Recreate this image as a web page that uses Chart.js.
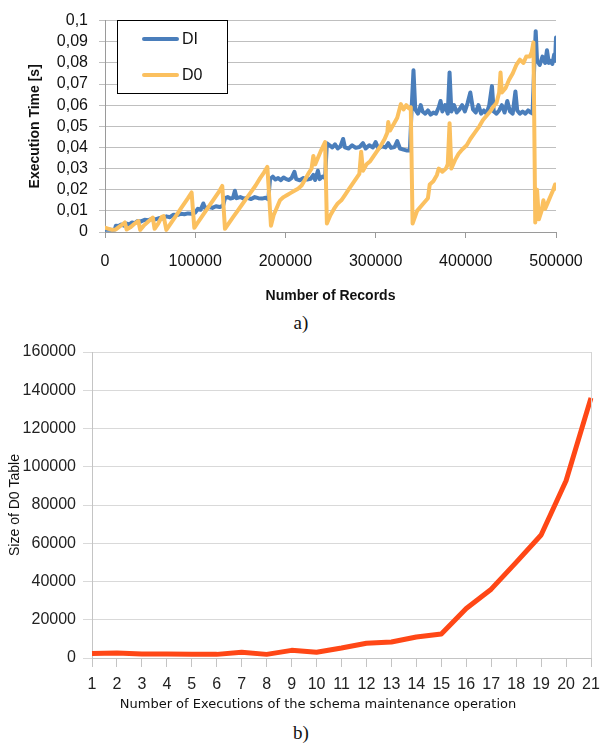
<!DOCTYPE html>
<html>
<head>
<meta charset="utf-8">
<script src="https://cdn.jsdelivr.net/npm/chart.js@4.4.1/dist/chart.umd.min.js"></script>
<style>
  html, body { margin: 0; padding: 0; background: #fff; width: 600px; height: 746px; overflow: hidden; }
  #wrapA { position: absolute; left: 0; top: 0; width: 600px; height: 310px; }
  #wrapB { position: absolute; left: 0; top: 330px; width: 600px; height: 390px; }
  .cap { position: absolute; font-family: "Liberation Serif", "Times New Roman", serif; font-size: 19px; color: #111; transform: translate(-50%, -50%); }
  .axisTitleB { position: absolute; font-family: "DejaVu Sans", sans-serif; font-size: 13px; color: #111; white-space: nowrap; transform: translate(-50%, -50%); }
</style>
</head>
<body>
<div id="wrapA"><canvas id="timeChart" width="600" height="310"></canvas></div>
<div class="cap" style="left:301px; top:323px;">a)</div>
<div id="wrapB"><canvas id="sizeChart" width="600" height="390"></canvas></div>
<div id="xTitleB" class="axisTitleB" style="left:318px; top:703px;"></div>
<div class="cap" style="left:301px; top:733px;">b)</div>

<script>
// ---- a) execution time per insert, by number of records ----
const seriesNamesA = ['DI', 'D0'];

const diRecords = [
  0, 4000, 8000, 11000, 12000, 15000, 18000, 21000, 24000, 27000, 30000, 33000, 36000, 40000, 44000, 48000,
  52000, 56000, 60000, 64000, 68000, 72000, 76000, 80000, 84000, 88000, 92000, 96000, 100000, 103000, 106000,
  109000, 111000, 115000, 119000, 123000, 127000, 131000, 133000, 136000, 139000, 142000, 144000, 146000,
  150000, 154000, 158000, 162000, 166000, 170000, 174000, 178000, 181000, 183000, 186000, 189000, 192000,
  195000, 198000, 201000, 204000, 207000, 210000, 212000, 216000, 220000, 224000, 228000, 231000, 233000,
  236000, 238000, 241000, 244000, 246000, 249000, 252000, 255000, 258000, 261000, 264000, 266000, 270000,
  274000, 278000, 282000, 286000, 289000, 293000, 297000, 300000, 303000, 307000, 311000, 314000, 317000,
  321000, 324000, 327000, 331000, 335000, 338000, 340000, 342000, 344000, 347000, 350000, 352000, 355000,
  358000, 361000, 364000, 367000, 370000, 372000, 374000, 377000, 380000, 382000, 384000, 387000, 390000,
  393000, 396000, 399000, 402000, 405000, 408000, 411000, 414000, 417000, 420000, 423000, 426000, 429000,
  431000, 434000, 437000, 440000, 443000, 446000, 449000, 452000, 455000, 457000, 460000, 463000, 466000,
  469000, 472000, 474000, 476000, 477500, 479000, 482000, 485000, 488000, 490000, 492000, 494000, 496000,
  498000, 499000, 500000
];
const diTimes = [
  0.0010, 0.0012, 0.0010, 0.0012, 0.0030, 0.0028, 0.0035, 0.0030, 0.0040, 0.0036, 0.0045, 0.0042, 0.0052, 0.0050, 0.0058, 0.0056,
  0.0062, 0.0060, 0.0066, 0.0064, 0.0074, 0.0070, 0.0082, 0.0080, 0.0086, 0.0084, 0.0088, 0.0086, 0.0092, 0.0110, 0.0105,
  0.0135, 0.0112, 0.0118, 0.0114, 0.0122, 0.0118, 0.0125, 0.0160, 0.0165, 0.0158, 0.0162, 0.0195, 0.0160,
  0.0165, 0.0158, 0.0162, 0.0156, 0.0165, 0.0160, 0.0158, 0.0162, 0.0155, 0.0250, 0.0262, 0.0248, 0.0255,
  0.0245, 0.0258, 0.0250, 0.0246, 0.0256, 0.0285, 0.0250, 0.0245, 0.0255, 0.0248, 0.0252, 0.0270, 0.0246,
  0.0290, 0.0250, 0.0262, 0.0255, 0.0420, 0.0410, 0.0400, 0.0415, 0.0395, 0.0405, 0.0440, 0.0400, 0.0395,
  0.0410, 0.0398, 0.0402, 0.0420, 0.0395, 0.0410, 0.0400, 0.0425, 0.0395, 0.0405, 0.0400, 0.0420, 0.0398,
  0.0402, 0.0430, 0.0395, 0.0390, 0.0385, 0.0385, 0.0590, 0.0765, 0.0580, 0.0560, 0.0600, 0.0570, 0.0560,
  0.0575, 0.0555, 0.0565, 0.0560, 0.0590, 0.0620, 0.0570, 0.0600, 0.0560, 0.0755, 0.0570, 0.0600, 0.0565,
  0.0580, 0.0600, 0.0570, 0.0610, 0.0660, 0.0580, 0.0565, 0.0600, 0.0560, 0.0575, 0.0560, 0.0600, 0.0690,
  0.0570, 0.0560, 0.0575, 0.0600, 0.0565, 0.0620, 0.0570, 0.0560, 0.0665, 0.0575, 0.0560, 0.0570, 0.0560,
  0.0575, 0.0565, 0.0560, 0.0800, 0.0950, 0.0810, 0.0790, 0.0830, 0.0800, 0.0860, 0.0800, 0.0810, 0.0795,
  0.0840, 0.0810, 0.0920
];

const d0Records = [
  0, 4000, 8000, 12000, 16000, 20000, 22000, 24000, 28000, 33000, 37000, 39000, 43000, 48000, 53000, 55000,
  59000, 63000, 65000, 68000, 72000, 76000, 80000, 84000, 88000, 92000, 96000, 99000, 103000, 107000, 111000,
  115000, 119000, 123000, 127000, 130000, 133000, 137000, 142000, 147000, 152000, 157000, 162000, 167000,
  172000, 176000, 180000, 184000, 187000, 190000, 194000, 198000, 202000, 206000, 210000, 214000, 218000,
  222000, 226000, 229000, 231000, 233000, 236000, 240000, 244000, 246000, 250000, 254000, 258000, 262000,
  266000, 270000, 274000, 278000, 282000, 284000, 286000, 290000, 294000, 298000, 302000, 306000, 310000,
  313000, 314000, 316000, 320000, 324000, 328000, 331000, 334000, 337000, 339000, 341000, 346000, 352000,
  358000, 360000, 364000, 368000, 370000, 374000, 378000, 380000, 382000, 384000, 388000, 392000, 396000,
  401000, 405000, 410000, 415000, 419000, 423000, 427000, 430000, 434000, 437000, 438500, 440000, 444000,
  448000, 452000, 456000, 460000, 464000, 467000, 471000, 473000, 475000, 477000, 479000, 481000, 484000,
  486000, 488000, 491000, 494000, 497000, 499000, 500000
];
const d0Times = [
  0.0020, 0.0015, 0.0010, 0.0012, 0.0025, 0.0038, 0.0045, 0.0012, 0.0022, 0.0040, 0.0052, 0.0010, 0.0030, 0.0050, 0.0068, 0.0015,
  0.0040, 0.0072, 0.0075, 0.0010, 0.0035, 0.0060, 0.0085, 0.0110, 0.0135, 0.0160, 0.0187, 0.0020, 0.0045, 0.0070, 0.0095,
  0.0120, 0.0145, 0.0170, 0.0195, 0.0218, 0.0015, 0.0040, 0.0070, 0.0100, 0.0130, 0.0160, 0.0190, 0.0220,
  0.0255, 0.0280, 0.0308, 0.0030, 0.0080, 0.0110, 0.0150, 0.0165, 0.0175, 0.0185, 0.0195, 0.0205, 0.0220,
  0.0250, 0.0280, 0.0300, 0.0360, 0.0320, 0.0350, 0.0390, 0.0425, 0.0040, 0.0080, 0.0110, 0.0135, 0.0150,
  0.0175, 0.0200, 0.0225, 0.0250, 0.0275, 0.0380, 0.0290, 0.0320, 0.0335, 0.0360, 0.0385, 0.0410, 0.0440,
  0.0470, 0.0520, 0.0480, 0.0510, 0.0540, 0.0605, 0.0580, 0.0600, 0.0585, 0.0590, 0.0040, 0.0100, 0.0130,
  0.0160, 0.0225, 0.0240, 0.0270, 0.0300, 0.0285, 0.0300, 0.0320, 0.0515, 0.0300, 0.0340, 0.0370, 0.0390,
  0.0410, 0.0440, 0.0470, 0.0500, 0.0530, 0.0550, 0.0570, 0.0590, 0.0610, 0.0660, 0.0755, 0.0660, 0.0680,
  0.0720, 0.0750, 0.0790, 0.0815, 0.0800, 0.0830, 0.0830, 0.0850, 0.0897, 0.0045, 0.0200, 0.0060, 0.0100,
  0.0150, 0.0110, 0.0140, 0.0170, 0.0200, 0.0225, 0.0205
];

const xTickLabelsA = ['0', '100000', '200000', '300000', '400000', '500000'];
const yTickLabelsA = ['0', '0,01', '0,02', '0,03', '0,04', '0,05', '0,06', '0,07', '0,08', '0,09', '0,1'];
const xTitleA = 'Number of Records';
const yTitleA = 'Execution Time [s]';

// ---- b) size of the D0 table after each run ----
const executions = ['1', '2', '3', '4', '5', '6', '7', '8', '9', '10', '11', '12', '13', '14', '15', '16', '17', '18', '19', '20', '21'];
const d0Sizes = [2300, 2600, 2100, 2100, 1900, 1900, 3000, 1900, 4000, 3000, 5200, 7700, 8400, 11000, 12600, 25900, 36000, 50000, 64300, 92700, 136000];
const yTickLabelsB = ['0', '20000', '40000', '60000', '80000', '100000', '120000', '140000', '160000'];
const xTitleB = 'Number of Executions of the schema maintenance operation';
const yTitleB = 'Size of D0 Table';

document.getElementById('xTitleB').textContent = xTitleB;

const SANS = '"Liberation Sans", Arial, sans-serif';

function toPoints(xs, ys) {
  return xs.map((x, i) => ({ x: x, y: ys[i] }));
}

// keep the plot edges where the layout padding puts them
function noEdgePadding(s) {
  s.paddingLeft = 0;
  s.paddingRight = 0;
}

// boxed legend drawn inside the plot area
const boxLegend = {
  id: 'boxLegend',
  afterDraw(chart, args, o) {
    const ctx = chart.ctx;
    ctx.save();
    ctx.fillStyle = '#ffffff';
    ctx.fillRect(o.x, o.y, o.w, o.h);
    ctx.strokeStyle = '#000000';
    ctx.lineWidth = 1;
    ctx.strokeRect(o.x + 0.5, o.y + 0.5, o.w, o.h);
    chart.data.datasets.forEach((ds, i) => {
      const y = o.rows[i];
      ctx.strokeStyle = ds.borderColor;
      ctx.lineWidth = ds.borderWidth;
      ctx.lineCap = 'round';
      ctx.beginPath();
      ctx.moveTo(o.lineFrom, y);
      ctx.lineTo(o.lineTo, y);
      ctx.stroke();
      ctx.fillStyle = '#111111';
      ctx.font = '16px ' + SANS;
      ctx.textBaseline = 'middle';
      ctx.textAlign = 'left';
      ctx.fillText(ds.label, o.textX, y + 1);
    });
    ctx.restore();
  }
};

// closes the plot frame on the right-hand side
const rightFrame = {
  id: 'rightFrame',
  afterDraw(chart, args, o) {
    const a = chart.chartArea;
    const ctx = chart.ctx;
    ctx.save();
    ctx.strokeStyle = o.color;
    ctx.lineWidth = 1;
    ctx.beginPath();
    ctx.moveTo(Math.round(a.right) + 0.5, a.top);
    ctx.lineTo(Math.round(a.right) + 0.5, a.bottom);
    ctx.stroke();
    ctx.restore();
  }
};

new Chart(document.getElementById('timeChart'), {
  type: 'scatter',
  data: {
    datasets: [
      {
        label: seriesNamesA[0],
        data: toPoints(diRecords, diTimes),
        showLine: true,
        borderColor: '#4a7ebb',
        backgroundColor: '#4a7ebb',
        borderWidth: 4,
        pointRadius: 0,
        borderJoinStyle: 'round',
        borderCapStyle: 'round',
        order: 1
      },
      {
        label: seriesNamesA[1],
        data: toPoints(d0Records, d0Times),
        showLine: true,
        borderColor: '#fbc05f',
        backgroundColor: '#fbc05f',
        borderWidth: 4,
        pointRadius: 0,
        borderJoinStyle: 'round',
        borderCapStyle: 'round',
        order: 0
      }
    ]
  },
  options: {
    responsive: false,
    animation: false,
    layout: { padding: { left: 0, right: 44, top: 9, bottom: 0 } },
    plugins: {
      legend: { display: false },
      tooltip: { enabled: false },
      boxLegend: { x: 117, y: 20, w: 110, h: 73, rows: [39, 75], lineFrom: 144, lineTo: 177, textX: 182 }
    },
    scales: {
      x: {
        type: 'linear',
        min: 0,
        max: 500000,
        afterFit(s) { s.height = 78; noEdgePadding(s); },
        ticks: {
          stepSize: 100000,
          autoSkip: false,
          maxRotation: 0,
          padding: 14,
          color: '#111111',
          font: { family: SANS, size: 16 },
          callback: (v, i) => xTickLabelsA[i]
        },
        grid: { drawOnChartArea: false, drawTicks: true, tickLength: 6, color: '#9a9a9a' },
        border: { color: '#9a9a9a', width: 1 },
        title: {
          display: true, text: xTitleA, color: '#111111',
          font: { family: SANS, size: 14, weight: 'bold' },
          padding: { top: 0, bottom: 5 }
        }
      },
      y: {
        min: 0,
        max: 0.1,
        afterFit(s) { s.width = 105; },
        ticks: {
          stepSize: 0.01,
          autoSkip: false,
          padding: 11,
          color: '#111111',
          font: { family: SANS, size: 16 },
          callback: (v, i) => yTickLabelsA[i]
        },
        grid: { color: '#bfbfbf', tickLength: 6 },
        border: { color: '#9a9a9a', width: 1 },
        title: {
          display: true, text: yTitleA, color: '#111111',
          font: { family: SANS, size: 14, weight: 'bold' },
          padding: { top: 27, bottom: 0 }
        }
      }
    }
  },
  plugins: [boxLegend]
});

new Chart(document.getElementById('sizeChart'), {
  type: 'line',
  data: {
    labels: executions,
    datasets: [{
      label: yTitleB,
      data: d0Sizes,
      borderColor: '#ff4716',
      backgroundColor: '#ff4716',
      borderWidth: 5,
      pointRadius: 0,
      tension: 0,
      borderJoinStyle: 'round',
      borderCapStyle: 'butt'
    }]
  },
  options: {
    responsive: false,
    animation: false,
    layout: { padding: { left: 0, right: 9, top: 22, bottom: 0 } },
    plugins: {
      legend: { display: false },
      tooltip: { enabled: false },
      rightFrame: { color: '#d4d4d4' }
    },
    scales: {
      x: {
        type: 'category',
        offset: false,
        afterFit(s) { s.height = 62; noEdgePadding(s); },
        ticks: {
          autoSkip: false,
          maxRotation: 0,
          padding: 8,
          color: '#222222',
          font: { family: SANS, size: 16 }
        },
        grid: { drawOnChartArea: false, drawTicks: true, tickLength: 9, color: '#c4c4c4' },
        border: { color: '#c4c4c4', width: 1 }
      },
      y: {
        min: 0,
        max: 160000,
        afterFit(s) { s.width = 92; },
        ticks: {
          stepSize: 20000,
          autoSkip: false,
          padding: 7,
          color: '#222222',
          font: { family: SANS, size: 16 },
          callback: (v, i) => yTickLabelsB[i]
        },
        grid: { color: '#d9d9d9', tickLength: 9 },
        border: { color: '#c4c4c4', width: 1 },
        title: {
          display: true, text: yTitleB, color: '#111111',
          font: { family: SANS, size: 14 },
          padding: { top: 7, bottom: 0 }
        }
      }
    }
  },
  plugins: [rightFrame]
});
</script>
</body>
</html>
